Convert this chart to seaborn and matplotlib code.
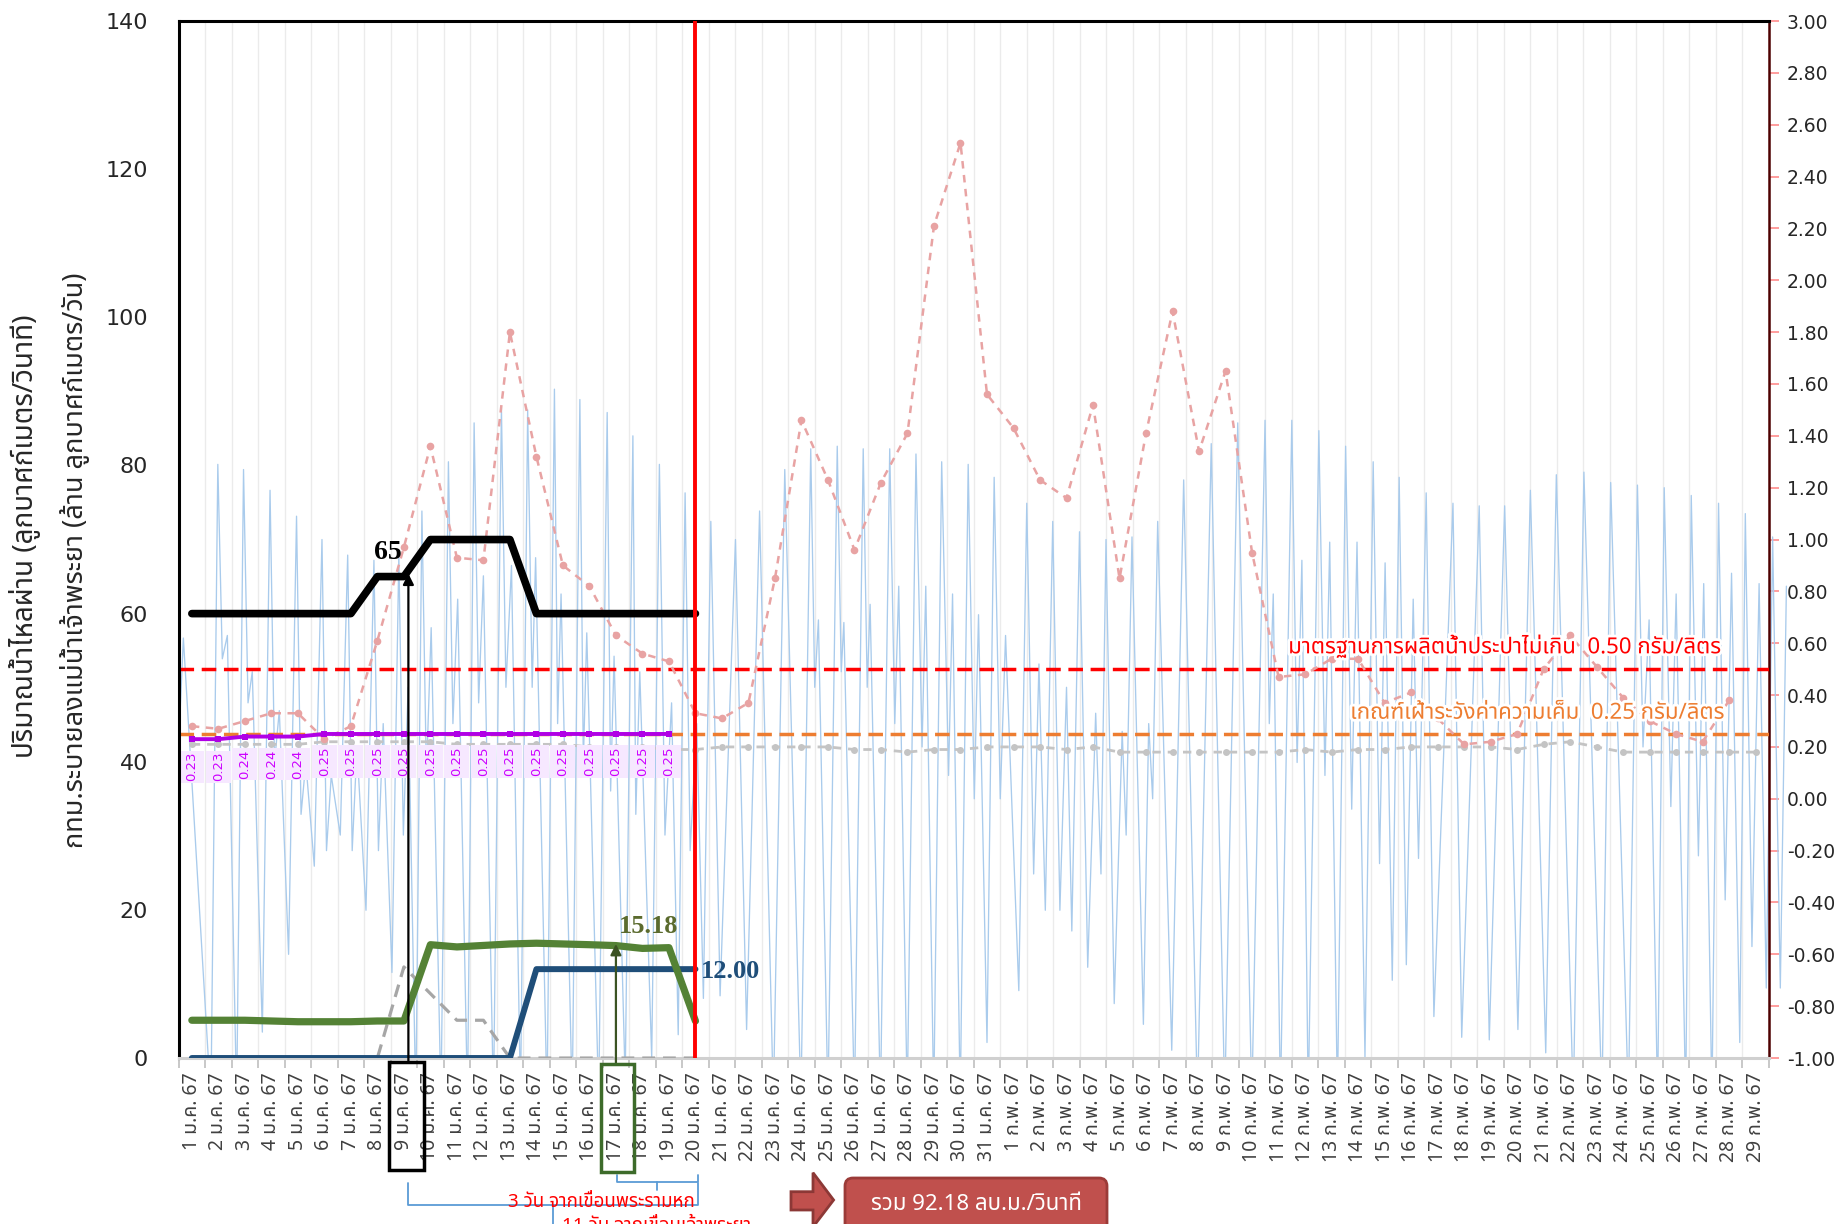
import numpy as np
import pandas as pd
import matplotlib
matplotlib.use("Agg")
import matplotlib.pyplot as plt
import matplotlib.transforms as mtransforms
import matplotlib.patheffects as pe
from matplotlib import font_manager
from matplotlib.ft2font import FT2Font
from matplotlib.patches import Rectangle, FancyBboxPatch, Polygon
import seaborn as sns

# ---------------- data ----------------
jan_days = list(range(1, 32))
feb_days = list(range(1, 30))
date_labels = [f"{d} ม.ค. 67" for d in jan_days] + [f"{d} ก.พ. 67" for d in feb_days]

day_idx20 = list(range(20))
bkk_release = [60, 60, 60, 60, 60, 60, 60, 65, 65, 70, 70, 70, 70, 60, 60, 60, 60, 60, 60, 60]
flow_green = [5.1, 5.1, 5.1, 5.0, 4.9, 4.9, 4.9, 5.0, 5.0, 15.3, 15.0, 15.2, 15.4, 15.5, 15.4, 15.3, 15.18, 14.8, 14.9, 5.0]
flow_navy = [0, 0, 0, 0, 0, 0, 0, 0, 0, 0, 0, 0, 0, 12, 12, 12, 12, 12, 12, 12]
flow_grey = [0, 0, 0, 0, 0, 0, 0, 0, 12.3, 8.7, 5.1, 5.1, 0, 0, 0, 0, 0, 0, 0, 0]

# salinity (g/l, right axis)
sal_pink = [0.28, 0.27, 0.30, 0.33, 0.33, 0.23, 0.28, 0.61, 0.97, 1.36, 0.93, 0.92, 1.80, 1.32, 0.90, 0.82, 0.63, 0.56, 0.53, 0.33,
            0.31, 0.37, 0.85, 1.46, 1.23, 0.96, 1.22, 1.41, 2.21, 2.53, 1.56, 1.43, 1.23, 1.16, 1.52, 0.85, 1.41, 1.88, 1.34, 1.65,
            0.95, 0.47, 0.48, 0.54, 0.54, 0.37, 0.41, 0.31, 0.21, 0.22, 0.25, 0.50, 0.63, 0.51, 0.39, 0.30, 0.25, 0.22, 0.38]
sal_grey = [0.21, 0.21, 0.21, 0.21, 0.21, 0.22, 0.22, 0.22, 0.22, 0.22, 0.21, 0.21, 0.21, 0.21, 0.21, 0.20, 0.20, 0.20, 0.19, 0.19,
            0.20, 0.20, 0.20, 0.20, 0.20, 0.19, 0.19, 0.18, 0.19, 0.19, 0.20, 0.20, 0.20, 0.19, 0.20, 0.18, 0.18, 0.18, 0.18, 0.18,
            0.18, 0.18, 0.19, 0.18, 0.19, 0.19, 0.20, 0.20, 0.20, 0.20, 0.19, 0.21, 0.22, 0.20, 0.18, 0.18, 0.18, 0.18, 0.18, 0.18]
sal_purple = [0.23, 0.23, 0.24, 0.24, 0.24, 0.25, 0.25, 0.25, 0.25, 0.25, 0.25, 0.25, 0.25, 0.25, 0.25, 0.25, 0.25, 0.25, 0.25]

# tide level extremes (m, right axis); time in day-index units
tide_day = [
    -0.50, -0.32, 0.72,
    0.98, 1.15, 1.34, 1.69,
    1.95, 2.12, 2.28, 2.66,
    2.95, 3.12, 3.30, 3.65,
    3.95, 4.12, 4.30, 4.62,
    4.91, 5.08, 5.26, 5.60,
    5.88, 6.05, 6.23, 6.57,
    6.87, 7.04, 7.22, 7.55,
    7.81, 7.98, 8.16, 8.45,
    8.68, 8.85, 9.03, 9.40,
    9.68, 9.85, 10.03, 10.40,
    10.65, 10.82, 11.00, 11.38,
    11.68, 11.85, 12.06, 12.40,
    12.67, 12.84, 12.97, 13.40,
    13.68, 13.80, 13.93, 14.35,
    14.64, 14.77, 14.90, 15.35,
    15.67, 15.80, 15.93, 16.35,
    16.64, 16.75, 16.90, 17.35,
    17.64, 17.85, 18.10, 18.35,
    18.61, 18.80, 19.05, 19.30,
    19.58, 19.93,
    20.51, 20.93,
    21.42, 21.94,
    22.37, 22.98,
    23.35, 23.50, 23.64, 24.00,
    24.35, 24.50, 24.60, 25.00,
    25.33, 25.48, 25.59, 25.98,
    26.33, 26.52, 26.67, 26.99,
    27.32, 27.55, 27.69, 27.99,
    28.29, 28.55, 28.70, 28.99,
    29.29, 29.52, 29.68, 30.00,
    30.27, 30.50, 30.70, 31.20,
    31.50, 31.76, 31.96, 32.20,
    32.48, 32.75, 33.00, 33.20,
    33.49, 33.80, 34.10, 34.30,
    34.49, 34.80, 35.10, 35.25,
    35.47, 35.90, 36.10, 36.25,
    36.44, 36.97,
    37.42, 37.94,
    38.46, 38.97,
    39.46, 39.99,
    40.49, 40.65, 40.80, 41.07,
    41.50, 41.70, 41.88, 42.12,
    42.52, 42.75, 42.93, 43.22,
    43.53, 43.76, 43.96, 44.26,
    44.57, 44.81, 45.02, 45.29,
    45.55, 45.82, 46.08, 46.28,
    46.57, 46.86,
    47.58, 47.91,
    48.57, 48.95,
    49.53, 50.03,
    50.50, 51.08,
    51.48, 52.12,
    52.52, 53.20,
    53.53, 54.20,
    54.54, 54.75, 54.98, 55.30,
    55.55, 55.80, 56.00, 56.36,
    56.57, 56.84, 57.04, 57.35,
    57.60, 57.85, 58.09, 58.40,
    58.61, 58.86, 59.13, 59.40,
    59.64, 59.93, 60.16,
]
tide_level = [
    0.20, 0.62, -1.17,
    1.29, 0.54, 0.63, -1.17,
    1.27, 0.37, 0.49, -0.90,
    1.19, 0.14, 0.34, -0.60,
    1.09, -0.06, 0.14, -0.26,
    1.00, -0.20, 0.09, -0.14,
    0.94, -0.20, 0.20, -0.43,
    0.92, -0.20, 0.29, -0.67,
    0.94, -0.14, 0.43, -1.17,
    1.11, 0.09, 0.66, -1.17,
    1.30, 0.29, 0.77, -1.17,
    1.45, 0.37, 0.86, -1.17,
    1.51, 0.43, 0.90, -1.17,
    1.50, 0.43, 0.93, -1.17,
    1.58, 0.29, 0.79, -1.17,
    1.54, 0.14, 0.64, -1.17,
    1.49, 0.03, 0.55, -1.09,
    1.40, -0.06, 0.49, -1.00,
    1.29, -0.14, 0.37, -0.91,
    1.18, -0.20, 0.29, -0.77,
    1.07, -0.76,
    1.00, -0.89,
    1.11, -1.17,
    1.27, -1.17,
    1.35, 0.43, 0.69, -1.17,
    1.36, 0.49, 0.68, -1.17,
    1.35, 0.43, 0.75, -1.17,
    1.35, 0.29, 0.82, -1.17,
    1.33, 0.20, 0.82, -1.17,
    1.30, 0.09, 0.79, -1.17,
    1.29, 0.00, 0.71, -0.94,
    1.24, 0.00, 0.63, -0.74,
    1.14, -0.29, 0.52, -0.43,
    1.07, -0.43, 0.43, -0.51,
    1.03, -0.65, 0.33, -0.29,
    1.00, -0.79, 0.26, -0.14,
    1.01, -0.87, 0.29, 0.00,
    1.07, -0.97,
    1.23, -1.17,
    1.37, -1.17,
    1.45, -1.17,
    1.46, 0.29, 0.79, -1.17,
    1.46, 0.14, 0.92, -1.17,
    1.42, 0.09, 0.99, -1.17,
    1.36, -0.04, 0.99, -1.00,
    1.30, -0.25, 0.91, -0.70,
    1.24, -0.64, 0.77, -0.23,
    1.18, -0.84,
    1.14, -0.92,
    1.13, -0.93,
    1.13, -0.89,
    1.19, -0.98,
    1.25, -1.17,
    1.26, -1.17,
    1.22, -1.17,
    1.21, 0.20, 0.69, -1.17,
    1.20, -0.03, 0.79, -1.17,
    1.17, -0.22, 0.83, -1.17,
    1.14, -0.39, 0.87, -0.94,
    1.10, -0.57, 0.83, -0.73,
    1.01, -0.73, 0.82,
]

left_ticks = [0, 20, 40, 60, 80, 100, 120, 140]
right_ticks = [-1.0, -0.8, -0.6, -0.4, -0.2, 0.0, 0.2, 0.4, 0.6, 0.8, 1.0, 1.2, 1.4, 1.6, 1.8, 2.0, 2.2, 2.4, 2.6, 2.8, 3.0]
std_limit = 0.50
warn_limit = 0.25

ylabel1 = "ปริมาณน้ำไหลผ่าน (ลูกบาศก์เมตร/วินาที)"
ylabel2 = "กทม.ระบายลงแม่น้ำเจ้าพระยา (ล้าน ลูกบาศก์เมตร/วัน)"
std_text = "มาตรฐานการผลิตน้ำประปาไม่เกิน  0.50 กรัม/ลิตร"
warn_text = "เกณฑ์เฝ้าระวังค่าความเค็ม  0.25 กรัม/ลิตร"
note1 = "3 วัน จากเขื่อนพระรามหก"
note2 = "11 วัน จากเขื่อนเจ้าพระยา"
total_text = "รวม 92.18 ลบ.ม./วินาที"

# ---------------- fonts ----------------
def find_thai_fonts():
    found = {}
    for f in font_manager.fontManager.ttflist:
        try:
            cmap = FT2Font(f.fname).get_charmap()
        except Exception:
            continue
        if 0x0E01 in cmap and 0x0E2D in cmap and 0x0E49 in cmap:
            found.setdefault(f.name, f.fname)
    return found

thai_fonts = find_thai_fonts()
pref = ['Tahoma', 'Leelawadee UI', 'Noto Sans Thai', 'Noto Sans Thai UI', 'Sarabun', 'Loma', 'Garuda',
        'Umpush', 'Waree', 'Kinnari', 'Norasi', 'Laksaman', 'FreeSans', 'FreeSerif', 'DejaVu Sans']
thai_family = next((p for p in pref if p in thai_fonts), next(iter(thai_fonts), 'DejaVu Sans'))

sns.set_theme(style="white")
plt.rcParams['font.family'] = [thai_family, 'DejaVu Sans']
plt.rcParams['axes.unicode_minus'] = False

# ---------------- figure ----------------
fig = plt.figure(figsize=(18.43, 12.24), dpi=100)
ax = fig.add_axes([0.0969, 0.1356, 0.8629, 0.8472])
ax2 = ax.twinx()
ax.set_zorder(ax2.get_zorder() + 1)
ax.patch.set_visible(False)

ax.set_xlim(-0.5, 59.5)
ax.set_ylim(0, 140)
ax2.set_ylim(-1, 3)

# vertical gridlines at category boundaries
for b in np.arange(0.5, 59.5, 1.0):
    ax2.axvline(b, color='#EBEBEB', lw=1.0, zorder=0)

# tide
tide_df = pd.DataFrame({'t': tide_day, 'lvl': tide_level})
sns.lineplot(data=tide_df, x='t', y='lvl', ax=ax2, color='#A9CBEC', lw=0.95, sort=False,
             estimator=None, zorder=1, legend=False)
tline = ax2.lines[-1]
tline.set_clip_path(Rectangle((0, 0), 1.012, 1, transform=ax2.transAxes))

# thresholds
ax2.axhline(std_limit, color='#FF0000', lw=2.5, ls=(0, (4.2, 2.2)), zorder=3)
ax2.axhline(warn_limit, color='#ED7D31', lw=2.5, ls=(0, (4.2, 2.2)), zorder=3)

# salinity series
sns.lineplot(x=list(range(len(sal_grey))), y=sal_grey, ax=ax2, color='#C4C4C4', lw=2.0,
             linestyle=(0, (3, 2.5)), marker='o', markersize=5, markeredgewidth=0, zorder=4)
sns.lineplot(x=list(range(len(sal_pink))), y=sal_pink, ax=ax2, color='#E8A3A3', lw=1.8,
             linestyle=(0, (3, 2.6)), marker='o', markersize=5.5, markeredgewidth=0, zorder=4)

# purple series with label boxes
for i, v in enumerate(sal_purple):
    ax2.add_patch(Rectangle((i - 0.47, v - 0.168), 0.94, 0.124, facecolor='#F6E8FF', edgecolor='none', zorder=5))
    ax2.text(i, v - 0.106, f"{v:.2f}", rotation=90, ha='center', va='center', fontsize=9.5,
             color='#CC00FF', family='DejaVu Sans', zorder=7)
sns.lineplot(x=list(range(len(sal_purple))), y=sal_purple, ax=ax2, color='#B000E6', lw=2.8,
             marker='s', markersize=4.5, markeredgewidth=0, zorder=6)

glow = [pe.withStroke(linewidth=4, foreground='white')]
ax2.text(57.7, 0.59, std_text, color='#FF0000', fontsize=16, ha='right', va='center', zorder=8,
         path_effects=glow)
ax2.text(57.8, 0.33, warn_text, color='#ED7D31', fontsize=16, ha='right', va='center', zorder=8,
         path_effects=glow)

# flows on left axis
sns.lineplot(x=day_idx20, y=flow_grey, ax=ax, color='#A6A6A6', lw=2.3, linestyle=(0, (4, 2.5)), zorder=3)
sns.lineplot(x=day_idx20, y=flow_navy, ax=ax, color='#1F4E79', lw=4.3, zorder=4)
sns.lineplot(x=day_idx20, y=flow_green, ax=ax, color='#548235', lw=5.2, zorder=5)
sns.lineplot(x=day_idx20, y=bkk_release, ax=ax, color='black', lw=5.5, zorder=6)

ax.axvline(19, color='#FF0000', lw=2.8, zorder=7)

# axes styling
ax.set_xticks(range(len(date_labels)))
ax.set_xticklabels(date_labels, rotation=90, fontsize=14, color='#404040')
ax.set_xticks(np.arange(-0.5, 60, 1.0), minor=True)
ax.tick_params(axis='x', which='major', length=0, pad=10)
ax.tick_params(axis='x', which='minor', length=7, color='#BFBFBF', width=1.2, direction='out', bottom=True)
ax.set_yticks(left_ticks)
ax.set_yticklabels([str(t) for t in left_ticks], family='DejaVu Sans')
ax.tick_params(axis='y', length=0, labelsize=16, labelcolor='#262626', pad=22)

ax2.set_yticks(right_ticks)
ax2.set_yticklabels([f"{t:.2f}" for t in right_ticks], family='DejaVu Sans')
ax2.tick_params(axis='y', length=7, width=1.2, color='#FF8C8C', labelsize=13.5, labelcolor='#262626', pad=6)

for s in ['left', 'top']:
    ax.spines[s].set_color('black')
    ax.spines[s].set_linewidth(2.2)
ax.spines['bottom'].set_color('#D0D0D0')
ax.spines['bottom'].set_linewidth(2.2)
ax.spines['right'].set_visible(False)
for s in ['left', 'top', 'bottom']:
    ax2.spines[s].set_visible(False)
ax2.spines['right'].set_color('#4D0000')
ax2.spines['right'].set_linewidth(1.8)
ax.set_xlabel('')
ax.set_ylabel('')
ax2.set_ylabel('')

fig.text(0.0135, 0.562, ylabel1, rotation=90, ha='center', va='center', fontsize=20, color='#262626')
fig.text(0.0405, 0.542, ylabel2, rotation=90, ha='center', va='center', fontsize=19.5, color='#262626')

# annotations
serif = 'Liberation Serif'
ax.text(7.4, 67.4, "65", fontsize=20, fontweight='bold', family=serif, ha='center', va='baseline', color='black', zorder=9)
ax.text(17.22, 17.8, "15.18", fontsize=19, fontweight='bold', family=serif, ha='center', va='center', color='#5B6B2E', zorder=9)
ax.text(19.2, 11.7, "12.00", fontsize=19, fontweight='bold', family=serif, ha='left', va='center', color='#1F4E79', zorder=9)

trans = mtransforms.blended_transform_factory(ax.transData, ax.transAxes)
ax.annotate('', xy=(8.17, 65.4), xycoords='data', xytext=(8.17, -0.004), textcoords=trans,
            arrowprops=dict(arrowstyle='-|>', color='black', lw=1.6, mutation_scale=16, shrinkA=0, shrinkB=0),
            annotation_clip=False, zorder=9)
ax.annotate('', xy=(16.0, 15.4), xycoords='data', xytext=(16.0, -0.006), textcoords=trans,
            arrowprops=dict(arrowstyle='-|>', color='#3B5323', lw=1.6, mutation_scale=16, shrinkA=0, shrinkB=0),
            annotation_clip=False, zorder=9)
ax.add_patch(Rectangle((7.44, -0.1077), 1.33, 0.1043, transform=trans, fill=False, edgecolor='black',
                       lw=2.5, clip_on=False, zorder=9))
ax.add_patch(Rectangle((15.42, -0.11), 1.28, 0.104, transform=trans, fill=False, edgecolor='#3D6B2A',
                       lw=2.5, clip_on=False, zorder=9))

bc = '#5B9BD5'
ax.plot([8.17, 8.17, 19.11, 19.11], [-0.1209, -0.1417, -0.1417, -0.1209], transform=trans, color=bc, lw=1.3, clip_on=False)
ax.plot([13.62, 13.62], [-0.1417, -0.175], transform=trans, color=bc, lw=1.3, clip_on=False)
ax.plot([16.05, 16.05, 19.11, 19.11], [-0.1131, -0.1195, -0.1195, -0.1131], transform=trans, color=bc, lw=1.3, clip_on=False)
ax.plot([17.55, 17.55], [-0.1195, -0.127], transform=trans, color=bc, lw=1.3, clip_on=False)
ax.text(15.45, -0.139, note1, transform=trans, ha='center', va='center', color='#FF0000', fontsize=13.5,
        fontweight='bold', clip_on=False)
ax.text(17.55, -0.153, note2, transform=trans, ha='center', va='top', color='#FF0000', fontsize=13.5,
        fontweight='bold', clip_on=False)

inch = fig.dpi_scale_trans
arrow_pts = [(7.91, 0.14), (8.13, 0.14), (8.13, -0.03), (8.336, 0.24), (8.13, 0.513), (8.13, 0.323), (7.91, 0.323)]
fig.patches.append(Polygon(arrow_pts, closed=True, transform=inch, facecolor='#C0504D', edgecolor='#8C3836', lw=2))
fig.patches.append(FancyBboxPatch((8.45, -0.10), 2.62, 0.56, boxstyle='round,pad=0,rounding_size=0.08',
                                  transform=inch, facecolor='#C0504D', edgecolor='#9B3B38', lw=2))
fig.text(9.76 / 18.43, 0.19 / 12.24, total_text, ha='center', va='center', color='white', fontsize=16)

fig.savefig('out.png', dpi=100)
